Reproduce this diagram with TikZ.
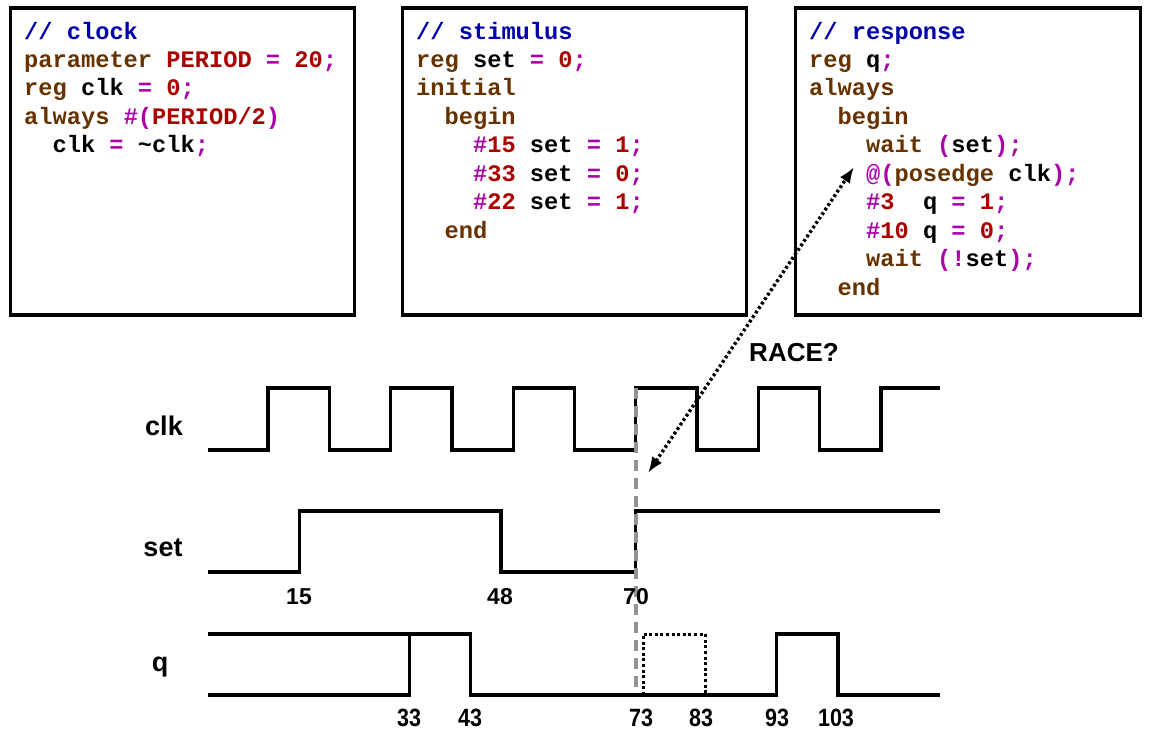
\documentclass[tikz,border=0pt]{standalone}
\usepackage{fontspec}
\setmainfont{Liberation Sans}
\newfontfamily\codefont{Liberation Mono}
\usetikzlibrary{arrows.meta}
\definecolor{cmtc}{RGB}{0,0,170}
\definecolor{kwc}{RGB}{102,51,0}
\definecolor{numc}{RGB}{170,0,0}
\definecolor{opc}{RGB}{170,0,170}
\newcommand{\ccm}[1]{\textcolor{cmtc}{#1}}
\newcommand{\ckw}[1]{\textcolor{kwc}{#1}}
\newcommand{\cnum}[1]{\textcolor{numc}{#1}}
\newcommand{\cop}[1]{\textcolor{opc}{#1}}
\tikzset{
  codebox/.style={draw=black, line width=3.4pt, fill=white, inner sep=0pt},
  codeline/.style={anchor=base west, inner sep=0pt, font=\codefont\bfseries\fontsize{23.7}{28}\selectfont},
  wave/.style={line width=3.3pt, line join=miter},
  sig/.style={font=\bfseries\fontsize{27}{32}\selectfont, inner sep=0pt},
  racelbl/.style={font=\bfseries\fontsize{26}{30}\selectfont, inner sep=0pt},
  tnum/.style={font=\bfseries\fontsize{23}{28}\selectfont, inner sep=0pt},
  qnum/.style={font=\bfseries\fontsize{25}{28}\selectfont, inner sep=0pt, xscale=0.86},
  markline/.style={draw=gray!85, line width=3.2pt, dash pattern=on 11pt off 7pt},
  pulse/.style={line width=3pt, dash pattern=on 3pt off 2.6pt},
  racearrow/.style={line width=3.4pt, dash pattern=on 2.8pt off 2.6pt, {Latex[length=16pt,width=12pt]}-{Latex[length=16pt,width=12pt]}},
}
\begin{document}
\begin{tikzpicture}[x=1pt,y=-1pt]
\useasboundingbox (0,0) rectangle (1153,734);
% code boxes
\node[codebox, minimum width=344pt, minimum height=307pt] (box1) at (182.5,161.5) {};
\node[codebox, minimum width=344pt, minimum height=307pt] (box2) at (574.5,161.5) {};
\node[codebox, minimum width=345pt, minimum height=307pt] (box3) at (968,161.5) {};
% box 1
\node[codeline] (a1) at (24,39) {\ccm{// clock}};
\node[codeline] (a2) at (24,67.45) {\ckw{parameter} \cnum{PERIOD} \cop{=} \cnum{20}\cop{;}};
\node[codeline] (a3) at (24,95.9) {\ckw{reg} clk \cop{=} \cnum{0}\cop{;}};
\node[codeline] (a4) at (24,124.35) {\ckw{always} \cop{\#(}\cnum{PERIOD/2}\cop{)}};
\node[codeline] (a5) at (52.4,152.8) {clk \cop{=} \textasciitilde clk\cop{;}};
% box 2
\node[codeline] (b1) at (416,39) {\ccm{// stimulus}};
\node[codeline] (b2) at (416,67.45) {\ckw{reg} set \cop{=} \cnum{0}\cop{;}};
\node[codeline] (b3) at (416,95.9) {\ckw{initial}};
\node[codeline] (b4) at (444.4,124.35) {\ckw{begin}};
\node[codeline] (b5) at (472.9,152.8) {\cop{\#}\cnum{15} set \cop{=} \cnum{1}\cop{;}};
\node[codeline] (b6) at (472.9,181.25) {\cop{\#}\cnum{33} set \cop{=} \cnum{0}\cop{;}};
\node[codeline] (b7) at (472.9,209.7) {\cop{\#}\cnum{22} set \cop{=} \cnum{1}\cop{;}};
\node[codeline] (b8) at (444.4,238.15) {\ckw{end}};
% box 3
\node[codeline] (c1) at (809,39) {\ccm{// response}};
\node[codeline] (c2) at (809,67.45) {\ckw{reg} q\cop{;}};
\node[codeline] (c3) at (809,95.9) {\ckw{always}};
\node[codeline] (c4) at (837.4,124.35) {\ckw{begin}};
\node[codeline] (c5) at (865.9,152.8) {\ckw{wait} \cop{(}set\cop{);}};
\node[codeline] (c6) at (865.9,181.25) {\cop{@(}\ckw{posedge} clk\cop{);}};
\node[codeline] (c7) at (865.9,209.7) {\cop{\#}\cnum{3}\ \ q \cop{=} \cnum{1}\cop{;}};
\node[codeline] (c8) at (865.9,238.15) {\cop{\#}\cnum{10} q \cop{=} \cnum{0}\cop{;}};
\node[codeline] (c9) at (865.9,266.6) {\ckw{wait} \cop{(!}set\cop{);}};
\node[codeline] (c10) at (837.4,295.05) {\ckw{end}};
% signal names
\node[sig] (lclk) at (164,426) {clk};
\node[sig] (lset) at (163,548) {set};
\node[sig] (lq) at (160,667) {q};
% clk waveform
\draw[wave] (208,450) -- (268,450) -- (268,388) -- (329.3,388) -- (329.3,450) -- (390.6,450) -- (390.6,388) -- (451.9,388) -- (451.9,450) -- (513.2,450) -- (513.2,388) -- (574.5,388) -- (574.5,450) -- (635.8,450) -- (635.8,388) -- (697.1,388) -- (697.1,450) -- (758.4,450) -- (758.4,388) -- (819.7,388) -- (819.7,450) -- (881,450) -- (881,388) -- (940,388);
% set waveform
\draw[wave] (208,572) -- (299.5,572) -- (299.5,511) -- (501,511) -- (501,572) -- (635.8,572) -- (635.8,511) -- (940,511);
% q waveform
\draw[wave] (208,634) -- (470.3,634) -- (470.3,695) -- (776.8,695) -- (776.8,634) -- (838,634) -- (838,695) -- (940,695);
\draw[wave] (208,695) -- (409.5,695) -- (409.5,634);
\draw[pulse] (643,695) -- (643,634) -- (705,634) -- (705,695);
% marker line at 70
\draw[markline] (636,388) -- (636,692);
% time labels
\node[tnum] (t15) at (299,597) {15};
\node[tnum] (t48) at (500,597) {48};
\node[tnum] (t70) at (636,597) {70};
\node[qnum] (t33) at (409,718) {33};
\node[qnum] (t43) at (470,718) {43};
\node[qnum] (t73) at (641,718) {73};
\node[qnum] (t83) at (701,718) {83};
\node[qnum] (t93) at (777,718) {93};
\node[qnum] (t103) at (836,718) {103};
% race arrow
\coordinate (raceA) at (648,473);
\coordinate (raceB) at (854,167);
\draw[racearrow] (raceA) -- (raceB);
\node[racelbl] (race) at (794,353) {RACE?};
\end{tikzpicture}
\end{document}
